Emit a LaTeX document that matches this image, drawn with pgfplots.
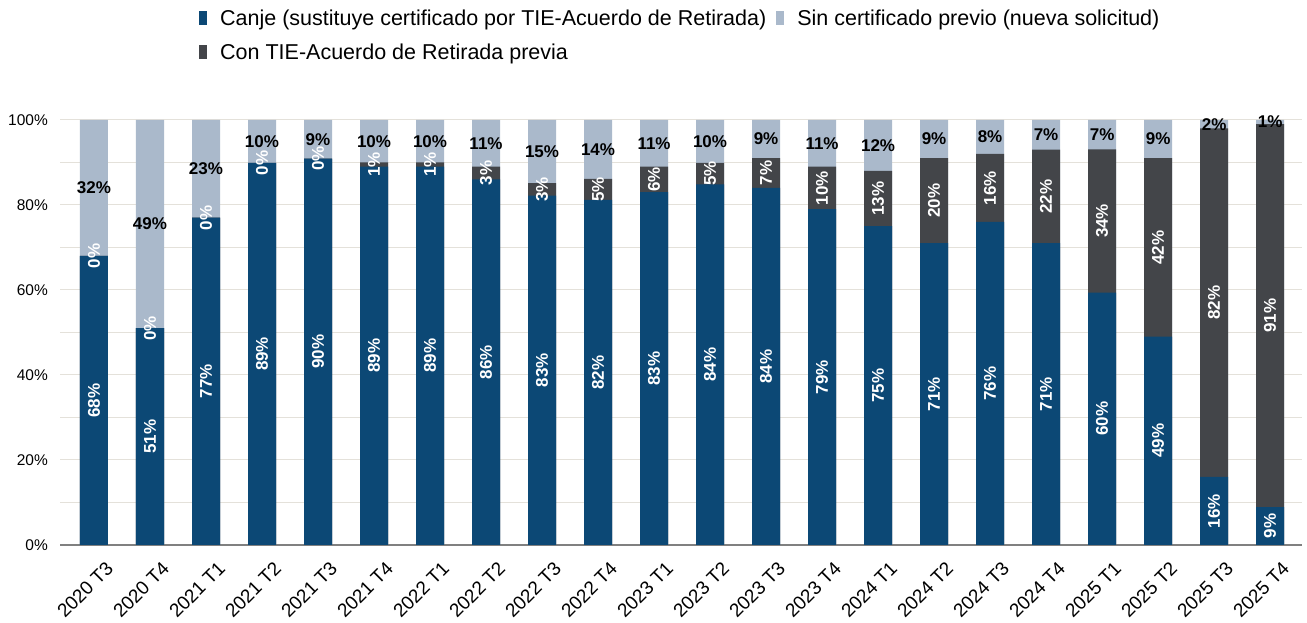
\documentclass[border=0pt]{standalone}
\usepackage{fontspec}
\setmainfont{Liberation Sans}
\usepackage{pgfplots}
\pgfplotsset{compat=1.18}
\usepackage{pgfplotstable}

\definecolor{canje}{RGB}{12,72,117}
\definecolor{sincert}{RGB}{170,185,203}
\definecolor{contie}{RGB}{67,69,73}
\definecolor{gridc}{RGB}{228,225,218}
\definecolor{axisc}{RGB}{128,128,128}

% shares per quarter (%), as labelled
\pgfplotstableread{
x canje con sin
0 68 0 32
1 51 0 49
2 77 0 23
3 89 0 10
4 90 0 9
5 89 1 10
6 89 1 10
7 86 3 11
8 83 3 15
9 82 5 14
10 83 6 11
11 84 5 10
12 84 7 9
13 79 10 11
14 75 13 12
15 71 20 9
16 76 16 8
17 71 22 7
18 60 34 7
19 49 42 9
20 16 82 2
21 9 91 1
}\datos

\newcommand{\tot}{(\thisrow{canje}+\thisrow{con}+\thisrow{sin})}

\begin{document}
\begin{tikzpicture}
\path[use as bounding box] (0,0) rectangle (1307pt,623pt);
\begin{axis}[
  at={(60pt,78pt)}, anchor=south west,
  scale only axis, width=1242pt, height=425pt,
  xmin=-0.607, xmax=21.57, ymin=0, ymax=100,
  clip=false,
  bar width=0.5,
  axis lines*=left,
  y axis line style={draw=none},
  x axis line style={draw=axisc, line width=1.5pt},
  major tick length=0pt, minor tick length=0pt,
  xtick={0,...,21},
  xticklabels={2020 T3,2020 T4,2021 T1,2021 T2,2021 T3,2021 T4,2022 T1,2022 T2,2022 T3,2022 T4,2023 T1,2023 T2,2023 T3,2023 T4,2024 T1,2024 T2,2024 T3,2024 T4,2025 T1,2025 T2,2025 T3,2025 T4},
  xticklabel style={xshift=11pt, yshift=-15pt, rotate=45, anchor=north east, inner sep=0pt, font=\fontsize{19}{19}\selectfont},
  ytick={0,20,...,100}, minor ytick={10,30,...,90},
  ymajorgrids, yminorgrids,
  major grid style={draw=gridc, line width=1pt},
  minor grid style={draw=gridc, line width=1pt},
  /pgf/number format/assume math mode=true,
  yticklabel={\pgfmathprintnumber{\tick}\%},
  yticklabel style={anchor=east, inner sep=0pt, xshift=-12pt, font=\fontsize{15.5}{16}\selectfont},
  legend image code/.code={\fill[#1] (0pt,-7pt) rectangle (8pt,7pt);},
  legend cell align=left,
  legend style={at={(0.1095,1.27)}, anchor=north west, draw=none, fill=none,
    font=\fontsize{21.5}{24}\selectfont, legend columns=2, row sep=13pt,
    /tikz/every odd column/.append style={column sep=11pt},
    /tikz/every even column/.append style={column sep=8pt}},
]
\addlegendimage{fill=canje, draw=none}
\addlegendentry{Canje (sustituye certificado por TIE-Acuerdo de Retirada)}
\addlegendimage{fill=sincert, draw=none}
\addlegendentry{Sin certificado previo (nueva solicitud)}
\addlegendimage{fill=contie, draw=none}
\addlegendentry{Con TIE-Acuerdo de Retirada previa}

% bars, normalised to 100 %, drawn back to front
\addplot[forget plot, ybar, bar shift=0pt, fill=sincert, draw=none]
  table[x=x, y expr={100*\tot/\tot}] \datos;
\addplot[forget plot, ybar, bar shift=0pt, fill=contie, draw=none]
  table[x=x, y expr={100*(\thisrow{canje}+\thisrow{con})/\tot}] \datos;
\addplot[forget plot, ybar, bar shift=0pt, fill=canje, draw=none]
  table[x=x, y expr={100*\thisrow{canje}/\tot}] \datos;

% labels in the middle of each segment
\addplot[forget plot, draw=none, point meta=explicit,
  nodes near coords={\pgfmathprintnumber{\pgfplotspointmeta}\%},
  every node near coord/.style={anchor=center, rotate=90, text=white, inner sep=0pt,
    font=\bfseries\fontsize{17}{17}\selectfont}]
  table[x=x, y expr={50*\thisrow{canje}/\tot}, meta=canje] \datos;
\addplot[forget plot, draw=none, point meta=explicit,
  nodes near coords={\pgfmathprintnumber{\pgfplotspointmeta}\%},
  every node near coord/.style={anchor=center, rotate=90, text=white, inner sep=0pt,
    font=\bfseries\fontsize{17}{17}\selectfont}]
  table[x=x, y expr={100*(\thisrow{canje}+0.5*\thisrow{con})/\tot}, meta=con] \datos;
\addplot[forget plot, draw=none, point meta=explicit,
  nodes near coords={\pgfmathprintnumber{\pgfplotspointmeta}\%},
  every node near coord/.style={anchor=center, text=black, inner sep=0pt,
    font=\bfseries\fontsize{17}{17}\selectfont}]
  table[x=x, y expr={100*(\thisrow{canje}+\thisrow{con}+0.5*\thisrow{sin})/\tot}, meta=sin] \datos;
\end{axis}
\end{tikzpicture}
\end{document}
